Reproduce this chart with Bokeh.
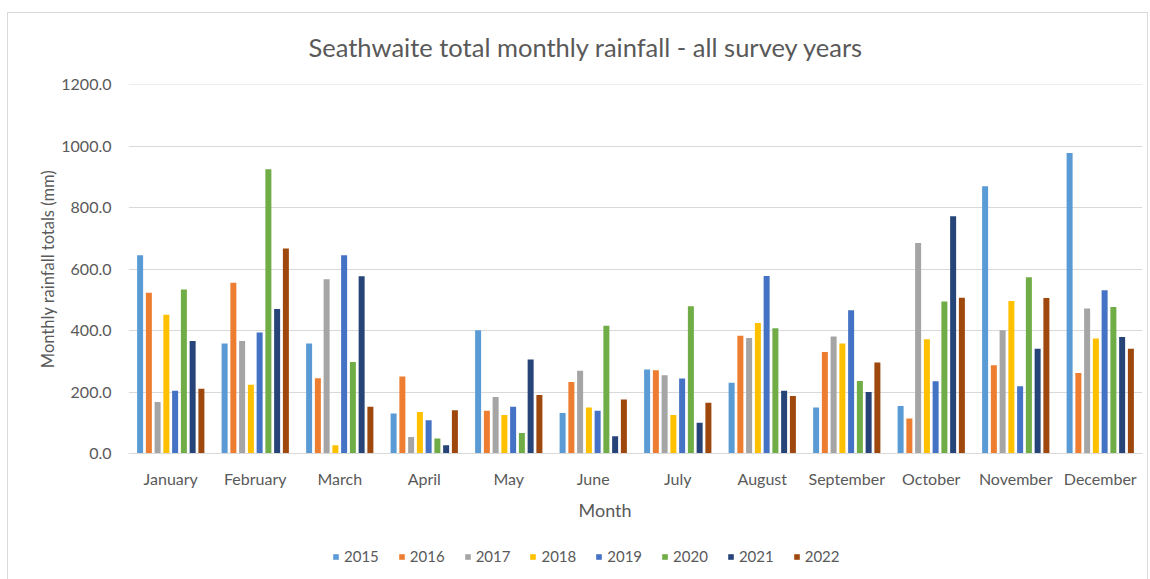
from bokeh.plotting import figure
from bokeh.layouts import column
from bokeh.models import (ColumnDataSource, FactorRange, Range1d, Legend, LegendItem,
                          Title, PrintfTickFormatter)
from bokeh.transform import dodge
from bokeh.embed import file_html
from bokeh.resources import INLINE

months = ["January", "February", "March", "April", "May", "June", "July",
          "August", "September", "October", "November", "December"]
years = ["2015", "2016", "2017", "2018", "2019", "2020", "2021", "2022"]

y2015 = [645, 358, 358, 130, 401, 132, 273, 230, 150, 155, 870, 978]
y2016 = [523, 556, 245, 251, 139, 233, 271, 383, 330, 114, 287, 262]
y2017 = [168, 366, 567, 54, 184, 269, 255, 376, 381, 685, 401, 472]
y2018 = [452, 224, 27, 135, 125, 150, 125, 425, 358, 372, 496, 374]
y2019 = [204, 394, 645, 108, 152, 139, 244, 578, 466, 235, 219, 531]
y2020 = [534, 925, 298, 49, 67, 416, 479, 408, 236, 495, 574, 477]
y2021 = [366, 470, 577, 27, 306, 56, 100, 204, 200, 772, 341, 379]
y2022 = [211, 667, 152, 141, 190, 176, 165, 187, 296, 507, 506, 341]

colors = ["#5B9BD5", "#ED7D31", "#A5A5A5", "#FFC000",
          "#4472C4", "#70AD47", "#264478", "#9E480E"]

y_ticks = [0, 200, 400, 600, 800, 1000, 1200]

series = [y2015, y2016, y2017, y2018, y2019, y2020, y2021, y2022]
data = {"month": months}
for yr, vals in zip(years, series):
    data[yr] = vals
source = ColumnDataSource(data)

FONT = "Lato"
TXT = "#595959"
W = 1150
LEG_H = 44

xr = FactorRange(*months, range_padding=0)
p = figure(width=W, height=579 - LEG_H, x_range=xr,
           y_range=Range1d(0, 1201), output_backend="svg", toolbar_location=None,
           min_border_left=128, min_border_right=8, min_border_top=84,
           min_border_bottom=82, background_fill_color="white",
           border_fill_color=None)
p.outline_line_color = None

slot = 0.1036
bw = 0.071
for i, (yr, c) in enumerate(zip(years, colors)):
    off = (i - 3.5) * slot
    p.vbar(x=dodge("month", off, range=xr), top=yr, width=bw,
           source=source, fill_color=c, line_color=None)

# axes
p.yaxis.ticker = y_ticks
p.yaxis.formatter = PrintfTickFormatter(format="%.1f")
p.yaxis.axis_line_color = None
p.yaxis.major_tick_line_color = None
p.yaxis.minor_tick_line_color = None
p.yaxis.major_label_text_font = FONT
p.yaxis.major_label_text_font_size = "16px"
p.yaxis.major_label_text_color = TXT
p.yaxis.major_label_standoff = 11
p.yaxis.axis_label = "Monthly rainfall totals (mm)"
p.yaxis.axis_label_text_font = FONT
p.yaxis.axis_label_text_font_size = "16.5px"
p.yaxis.axis_label_text_font_style = "normal"
p.yaxis.axis_label_text_color = TXT
p.yaxis.axis_label_standoff = 0

p.xaxis.axis_line_color = "#d9d9d9"
p.xaxis.major_tick_line_color = None
p.xaxis.minor_tick_line_color = None
p.xaxis.major_label_text_font = FONT
p.xaxis.major_label_text_font_size = "16px"
p.xaxis.major_label_text_color = TXT
p.xaxis.major_label_standoff = 9

p.xgrid.grid_line_color = None
p.ygrid.grid_line_color = "#d9d9d9"

t = Title(text="Seathwaite total monthly rainfall - all survey years", align="left",
          text_font=FONT, text_font_size="25.5px", text_font_style="normal",
          text_color=TXT, offset=180, standoff=46)
p.add_layout(t, "above")

xt = Title(text="Month", align="left", text_font=FONT, text_font_size="18px",
           text_font_style="normal", text_color=TXT, offset=450, standoff=13)
p.add_layout(xt, "below")

# legend strip (same bars, far outside its view range; only the legend shows)
lp = figure(width=W, height=LEG_H, x_range=xr, y_range=Range1d(5000, 6000),
            output_backend="svg", toolbar_location=None,
            min_border_left=0, min_border_right=0, min_border_top=0, min_border_bottom=0,
            background_fill_color=None, border_fill_color=None)
lp.outline_line_color = None
lp.axis.visible = False
lp.grid.visible = False
items = []
for i, (yr, c) in enumerate(zip(years, colors)):
    off = (i - 3.5) * slot
    r = lp.vbar(x=dodge("month", off, range=xr), top=yr, width=bw,
                source=source, fill_color=c, line_color=None)
    items.append(LegendItem(label=yr, renderers=[r]))
legend = Legend(items=items, orientation="horizontal", location=(204, 14),
                label_text_font=FONT, label_text_font_size="15px", label_text_color=TXT,
                glyph_width=7, glyph_height=7, label_standoff=5, spacing=19,
                padding=0, margin=0, border_line_color=None, background_fill_alpha=0)
lp.add_layout(legend, "center")

layout = column(p, lp, spacing=0)
layout.styles = {
    "background": ("linear-gradient(#d9d9d9,#d9d9d9) 7px 12px / 1141px 1px no-repeat,"
                   "linear-gradient(#d9d9d9,#d9d9d9) 7px 12px / 1px 567px no-repeat,"
                   "linear-gradient(#d9d9d9,#d9d9d9) 1147px 12px / 1px 567px no-repeat,"
                   "white")
}

open("out.html", "w").write(file_html(layout, INLINE))
